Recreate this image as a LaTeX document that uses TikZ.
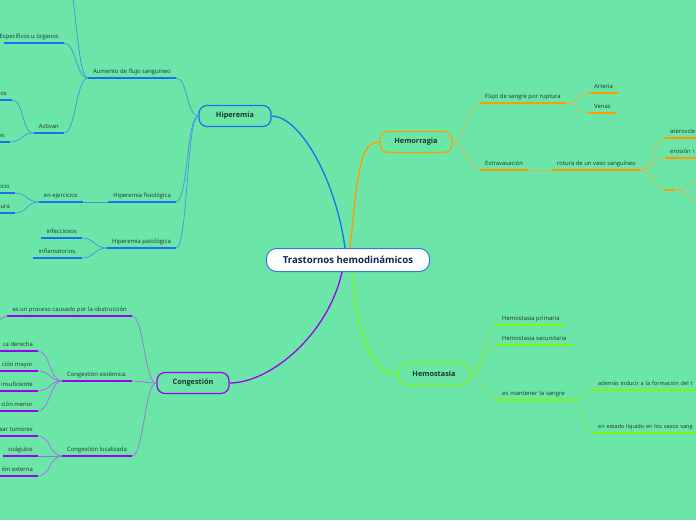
\documentclass[tikz,border=0pt]{standalone}
\usepackage{fontspec}
\setmainfont{Open Sans}
\usetikzlibrary{positioning}
\definecolor{bgmint}{RGB}{108,230,168}
\definecolor{hipblue}{RGB}{30,110,240}
\definecolor{hipline}{RGB}{70,145,225}
\definecolor{hemorange}{RGB}{255,155,0}
\definecolor{hemline}{RGB}{222,180,70}
\definecolor{hstlime}{RGB}{125,245,20}
\definecolor{hstline}{RGB}{140,228,60}
\definecolor{congpurple}{RGB}{155,0,240}
\definecolor{congline}{RGB}{160,110,225}
\definecolor{inkdark}{RGB}{30,50,45}
\definecolor{rootnavy}{RGB}{20,35,80}
\definecolor{rootedge}{RGB}{50,120,220}

\begin{document}
\begin{tikzpicture}[x=1pt, y=-1pt,
  rootbox/.style={draw=rootedge, line width=1pt, fill=white, rounded corners=10pt,
    minimum width=163pt, minimum height=23pt, font=\fontsize{9.6}{11}\selectfont\bfseries, text=rootnavy},
  topic/.style={draw=#1, line width=1.2pt, fill=bgmint, rounded corners=8pt,
    minimum width=72pt, minimum height=21pt, font=\fontsize{7.3}{8}\selectfont\bfseries, text=inkdark},
  leaf/.style={font=\fontsize{5.9}{7}\selectfont, text=inkdark, inner xsep=5pt, inner ysep=2.5pt,
    text height=4.4pt, text depth=1.4pt},
  trunk/.style={line width=1.3pt, #1},
  twig/.style={line width=0.7pt, #1},
  uline/.style={line width=1.8pt, #1},
  toleft/.style={out=180, in=0, distance=12pt},
  toright/.style={out=0, in=180, distance=12pt}
]
\path[use as bounding box, fill=bgmint] (0,0) rectangle (696,520);
\clip (0,0) rectangle (696,520);

% main topics
\node[rootbox] (root) at (348,260) {Trastornos hemodinámicos};
\node[topic=hipblue] (hip) at (235,116) {Hiperemia};
\node[topic=hemorange] (hem) at (416,142) {Hemorragia};
\node[topic=hstlime] (hst) at (434,374) {Hemostasia};
\node[topic=congpurple] (cong) at (193,383) {Congestión};

% Hiperemia
\node[leaf, anchor=south east] (aumento) at (176,78) {Aumento de flujo sanguíneo};
\node[leaf, anchor=south east] (fisio) at (176,202) {Hiperemia fisiológica};
\node[leaf, anchor=south east] (pato) at (176,248) {Hiperemia patológica};
\node[leaf, anchor=south east] (organos) at (64,43) {Específicos u órganos};
\node[leaf, anchor=south east] (activan) at (64,133) {Activan};
\node[leaf, anchor=south east] (activa1) at (12,100) {os};
\node[leaf, anchor=south east] (activa2) at (10,142) {es};
\node[leaf, anchor=south east] (ejer) at (83,202) {en ejercicios};
\node[leaf, anchor=south east] (ejer1) at (15,193) {icio};
\node[leaf, anchor=south east] (ejer2) at (15,213) {tura};
\node[leaf, anchor=south east] (infec) at (82,238) {infecciosos};
\node[leaf, anchor=south east] (infla) at (82,258) {inflamatorios.};
\coordinate (arriba) at (64,-30);

% Hemorragia
\node[leaf, anchor=south west] (flujo) at (480,103) {Flujo de sangre por ruptura};
\node[leaf, anchor=south west] (extra) at (480,170) {Extravasación};
\node[leaf, anchor=south west] (arteria) at (589,93) {Arteria};
\node[leaf, anchor=south west] (venas) at (589,113) {Venas};
\node[leaf, anchor=south west] (rotura) at (552,170) {rotura de un vaso sanguíneo};
\node[leaf, anchor=south west, text width=40pt] (ateros) at (665,138) {ateroscle};
\node[leaf, anchor=south west, text width=40pt] (erosion) at (665,158) {erosión i};
\node[leaf, anchor=south west, minimum width=10pt, inner xsep=0pt] (vacio) at (665,190) {};
\coordinate (fuera1) at (704,179);
\coordinate (fuera2) at (704,204);

% Hemostasia
\node[leaf, anchor=south west] (prim) at (497,325) {Hemostasia primaria};
\node[leaf, anchor=south west] (secu) at (497,345) {Hemostasia secundaria};
\node[leaf, anchor=south west, text width=65pt] (mant) at (497,400) {es mantener la sangre};
\node[leaf, anchor=south west, text width=150pt, font=\fontsize{5.6}{7}\selectfont] (ademas) at (593,390) {además inducir a la formación del t};
\node[leaf, anchor=south west, text width=150pt, font=\fontsize{5.6}{7}\selectfont] (estado) at (593,433) {en estado líquido en los vasos sang};

% Congestion
\node[leaf, anchor=south east] (proc) at (132,316) {es un proceso causado por la obstrucción};
\node[leaf, anchor=south east] (sist) at (132,381) {Congestión sistémica:};
\node[leaf, anchor=south east] (loc) at (132,456) {Congestión localizada};
\node[leaf, anchor=south east] (sist1) at (38,351) {ca derecha};
\node[leaf, anchor=south east] (sist2) at (38,371) {ción mayor};
\node[leaf, anchor=south east] (sist3) at (38,391) {insuficiente};
\node[leaf, anchor=south east] (sist4) at (38,411) {ción menor};
\node[leaf, anchor=south east] (loc1) at (38,436) {sar tumores};
\node[leaf, anchor=south east] (loc2) at (38,456) {coágulos};
\node[leaf, anchor=south east] (loc3) at (38,476) {ión externa};
\coordinate (fuera3) at (-18,338);

% underlines
\foreach \n in {aumento,fisio,pato,activan,ejer,infec,infla}
  \draw[uline=hipblue] (\n.south west) -- (\n.south east);
\foreach \n in {organos,activa1,activa2,ejer1,ejer2}
  \draw[uline=hipblue] (\n.south east) -- ++(-60,0);
\foreach \n in {flujo,extra,arteria,venas,rotura,vacio}
  \draw[uline=hemorange] (\n.south west) -- (\n.south east);
\foreach \n in {ateros,erosion}
  \draw[uline=hemorange] (\n.south west) -- ++(60,0);
\foreach \n in {prim,secu,mant}
  \draw[uline=hstlime] (\n.south west) -- (\n.south east);
\foreach \n in {ademas,estado}
  \draw[uline=hstlime] (\n.south west) -- ++(120,0);
\foreach \n in {proc,sist,loc,loc2}
  \draw[uline=congpurple] (\n.south west) -- (\n.south east);
\foreach \n in {sist1,sist2,sist3,sist4,loc1,loc3}
  \draw[uline=congpurple] (\n.south east) -- ++(-60,0);

% trunks from the root
\draw[trunk=hipblue] ([xshift=-3pt]root.north) .. controls (336,180) and (300,116) .. (hip.east);
\draw[trunk=hemorange] ([xshift=2pt]root.north) .. controls (358,170) and (360,142) .. (hem.west);
\draw[trunk=congpurple] ([xshift=-6pt]root.south) .. controls (328,335) and (270,383) .. (cong.east);
\draw[trunk=hstlime] ([xshift=4pt]root.south) .. controls (357,335) and (372,374) .. (hst.west);

% twigs
\foreach \c in {aumento,fisio,pato}
  \draw[twig=hipline] (hip.west) to[toleft] (\c.south east);
\foreach \c in {arriba,organos.south east,activan.south east}
  \draw[twig=hipline] (aumento.south west) to[toleft] (\c);
\foreach \c in {activa1,activa2}
  \draw[twig=hipline] (activan.south west) to[toleft] (\c.south east);
\draw[twig=hipline] (fisio.south west) to[toleft] (ejer.south east);
\foreach \c in {ejer1,ejer2}
  \draw[twig=hipline] (ejer.south west) to[toleft] (\c.south east);
\foreach \c in {infec,infla}
  \draw[twig=hipline] (pato.south west) to[toleft] (\c.south east);

\foreach \c in {flujo,extra}
  \draw[twig=hemline] (hem.east) to[toright] (\c.south west);
\foreach \c in {arteria,venas}
  \draw[twig=hemline] (flujo.south east) to[toright] (\c.south west);
\draw[twig=hemline] (extra.south east) to[toright] (rotura.south west);
\foreach \c in {ateros,erosion,vacio}
  \draw[twig=hemline] (rotura.south east) to[toright] (\c.south west);
\foreach \c in {fuera1,fuera2}
  \draw[twig=hemline] (vacio.south east) to[toright] (\c);

\foreach \c in {prim,secu,mant}
  \draw[twig=hstline] (hst.east) to[toright] (\c.south west);
\foreach \c in {ademas,estado}
  \draw[twig=hstline] (mant.south east) to[toright] (\c.south west);

\foreach \c in {proc,sist,loc}
  \draw[twig=congline] (cong.west) to[toleft] (\c.south east);
\draw[twig=congline] (proc.south west) to[toleft] (fuera3);
\foreach \c in {sist1,sist2,sist3,sist4}
  \draw[twig=congline] (sist.south west) to[toleft] (\c.south east);
\foreach \c in {loc1,loc2,loc3}
  \draw[twig=congline] (loc.south west) to[toleft] (\c.south east);
\end{tikzpicture}
\end{document}
